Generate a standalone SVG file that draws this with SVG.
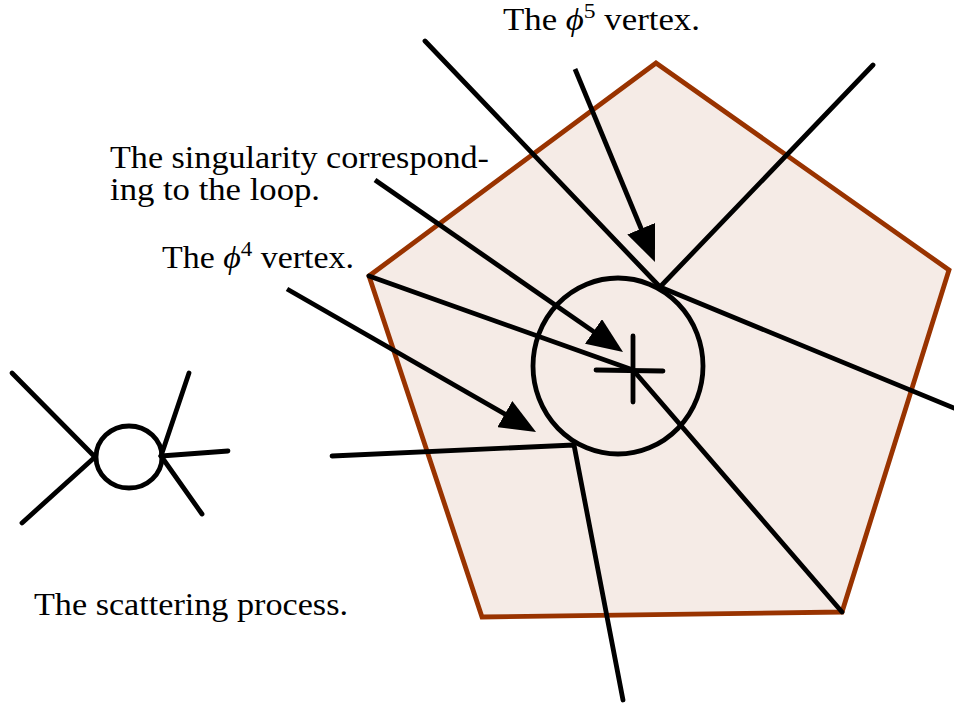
<svg xmlns="http://www.w3.org/2000/svg" width="954" height="704" viewBox="0 0 954 704">
<style>
.ln{fill:none;stroke:#000;stroke-width:4.8;stroke-linecap:round;stroke-linejoin:round}
.ar{fill:none;stroke:#000;stroke-width:4.8;stroke-linecap:butt;marker-end:url(#ah)}
.t{font-family:"Liberation Serif",serif;font-size:31px;font-weight:normal;fill:#000}
.sup{font-size:21px}
</style>
<defs>
<marker id="ah" markerUnits="userSpaceOnUse" viewBox="0 0 36 30" markerWidth="36" markerHeight="30" refX="16" refY="15" orient="auto">
<path d="M0,0 L36,15 L0,30 z" fill="#000"/>
</marker>
</defs>
<rect width="954" height="704" fill="#fff"/>
<g id="pentagon">
<polygon points="656,63 949,270 842,612 482,617 369,276" fill="#f5ebe6" stroke="#993300" stroke-width="4.8" stroke-linejoin="miter"/>
</g>
<g id="loop-circle">
<ellipse cx="618" cy="366" rx="85" ry="88" class="ln"/>
</g>
<g id="singularity-cross">
<line x1="596" y1="370" x2="663" y2="371" class="ln"/>
<line x1="633" y1="336" x2="633" y2="402" class="ln"/>
</g>
<g id="scattering-diagram">
<ellipse cx="129" cy="457" rx="33" ry="31" class="ln"/>
<line x1="12" y1="373" x2="95" y2="457" class="ln"/>
<line x1="95" y1="457" x2="22" y2="523" class="ln"/>
<line x1="189" y1="373" x2="161" y2="456" class="ln"/>
<line x1="161" y1="456" x2="228" y2="451" class="ln"/>
<line x1="161" y1="456" x2="202" y2="514" class="ln"/>
</g>
<g id="connectors">
<polyline points="425,41 660,287 873,65" class="ln"/>
<line x1="660" y1="287" x2="954" y2="408" class="ln"/>
<polyline points="369,276 633,370 842,612" class="ln"/>
<polyline points="332,456 574,445 623,700" class="ln"/>
<line x1="575" y1="69" x2="647.3" y2="243.5" class="ar"/>
<line x1="375" y1="180" x2="606.6" y2="340.6" class="ar"/>
<line x1="287" y1="289" x2="518.7" y2="422" class="ar"/>
</g>
<g id="labels">
<text class="t" x="503" y="30" textLength="197" lengthAdjust="spacingAndGlyphs">The <tspan font-style="italic">ϕ</tspan><tspan class="sup" dy="-12">5</tspan><tspan dy="12"> vertex.</tspan></text>
<text class="t" x="110" y="168" textLength="379" lengthAdjust="spacingAndGlyphs">The singularity correspond-</text>
<text class="t" x="110" y="200" textLength="210" lengthAdjust="spacingAndGlyphs">ing to the loop.</text>
<text class="t" x="162" y="268" textLength="192" lengthAdjust="spacingAndGlyphs">The <tspan font-style="italic">ϕ</tspan><tspan class="sup" dy="-12">4</tspan><tspan dy="12"> vertex.</tspan></text>
<text class="t" x="34" y="615" textLength="314" lengthAdjust="spacingAndGlyphs">The scattering process.</text>
</g>
</svg>
